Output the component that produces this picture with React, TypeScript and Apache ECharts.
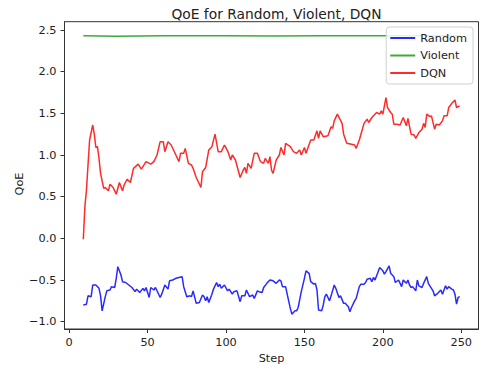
import React, { useEffect, useRef } from "react";
import * as echarts from "echarts";

const titleText = "QoE for Random, Violent, DQN";
const xTicks = [0, 50, 100, 150, 200, 250];
const yTicks = [-1.0, -0.5, 0.0, 0.5, 1.0, 1.5, 2.0, 2.5];

const randomSteps = [9, 11, 12, 14, 15, 17, 19, 20, 21, 23, 24, 26, 27, 29, 30, 31, 33, 34, 36, 38, 40, 42, 43, 45, 47, 48, 49, 51, 52, 54, 55, 58, 59, 61, 63, 64, 66, 68, 70, 72, 73, 75, 77, 78, 79, 81, 83, 85, 86, 87, 88, 89, 91, 92, 94, 95, 96, 97, 99, 101, 102, 104, 105, 107, 109, 110, 112, 113, 115, 117, 118, 120, 121, 123, 124, 126, 128, 130, 132, 134, 135, 136, 138, 139, 141, 142, 144, 145, 146, 148, 150, 151, 153, 154, 156, 157, 158, 159, 161, 162, 163, 164, 166, 167, 169, 170, 172, 173, 175, 176, 178, 179, 180, 182, 183, 185, 186, 188, 189, 190, 192, 193, 194, 195, 197, 198, 200, 201, 202, 204, 205, 207, 208, 210, 211, 212, 213, 215, 216, 217, 218, 219, 221, 222, 223, 225, 226, 228, 229, 231, 232, 233, 235, 237, 238, 240, 241, 242, 244, 245, 246, 247, 248, 249];
const randomQoE = [-0.80, -0.79, -0.69, -0.70, -0.56, -0.56, -0.60, -0.69, -0.87, -0.70, -0.63, -0.62, -0.58, -0.59, -0.48, -0.34, -0.44, -0.52, -0.53, -0.56, -0.59, -0.64, -0.61, -0.65, -0.60, -0.63, -0.59, -0.71, -0.59, -0.62, -0.59, -0.71, -0.67, -0.56, -0.61, -0.51, -0.50, -0.48, -0.47, -0.46, -0.58, -0.70, -0.69, -0.70, -0.63, -0.78, -0.77, -0.68, -0.70, -0.75, -0.70, -0.77, -0.67, -0.61, -0.53, -0.58, -0.55, -0.60, -0.56, -0.63, -0.61, -0.67, -0.64, -0.63, -0.76, -0.69, -0.69, -0.62, -0.70, -0.68, -0.72, -0.63, -0.64, -0.65, -0.59, -0.54, -0.50, -0.51, -0.54, -0.50, -0.51, -0.58, -0.58, -0.67, -0.84, -0.91, -0.87, -0.87, -0.83, -0.64, -0.48, -0.39, -0.42, -0.52, -0.55, -0.54, -0.62, -0.86, -0.87, -0.80, -0.70, -0.67, -0.75, -0.69, -0.56, -0.60, -0.71, -0.69, -0.78, -0.78, -0.82, -0.88, -0.83, -0.75, -0.72, -0.58, -0.55, -0.55, -0.53, -0.49, -0.48, -0.52, -0.47, -0.50, -0.40, -0.35, -0.39, -0.43, -0.40, -0.33, -0.42, -0.46, -0.53, -0.50, -0.54, -0.58, -0.50, -0.54, -0.50, -0.56, -0.59, -0.58, -0.63, -0.50, -0.57, -0.59, -0.54, -0.46, -0.54, -0.60, -0.63, -0.69, -0.66, -0.62, -0.67, -0.57, -0.61, -0.58, -0.61, -0.62, -0.67, -0.79, -0.71, -0.70];

const violentSteps = [9, 30, 60, 100, 130, 160, 200, 249];
const violentQoE = [2.43, 2.425, 2.43, 2.43, 2.428, 2.432, 2.43, 2.43];

const dqnSteps = [9, 10, 11, 13, 15, 16, 17, 18, 19, 20, 22, 23, 25, 26, 28, 30, 32, 34, 35, 37, 39, 41, 44, 46, 47, 49, 52, 54, 56, 58, 60, 61, 63, 65, 68, 70, 71, 73, 74, 76, 78, 79, 81, 84, 85, 87, 89, 91, 93, 95, 97, 99, 101, 103, 104, 106, 109, 111, 112, 113, 114, 116, 118, 120, 122, 124, 125, 127, 128, 129, 130, 132, 134, 135, 137, 138, 141, 143, 145, 147, 148, 150, 151, 154, 156, 158, 159, 160, 162, 165, 167, 168, 169, 171, 174, 175, 177, 180, 182, 183, 185, 188, 190, 191, 193, 196, 198, 199, 200, 202, 203, 205, 206, 207, 209, 211, 213, 215, 216, 218, 220, 221, 223, 225, 226, 227, 228, 230, 231, 233, 234, 236, 238, 239, 241, 242, 244, 246, 247, 249];
const dqnQoE = [-0.01, 0.38, 0.58, 1.18, 1.36, 1.25, 1.09, 1.10, 0.96, 0.78, 0.60, 0.61, 0.57, 0.65, 0.61, 0.53, 0.67, 0.57, 0.64, 0.71, 0.67, 0.84, 0.89, 0.83, 0.86, 0.92, 0.89, 0.92, 1.00, 1.16, 1.16, 1.04, 1.16, 1.12, 1.00, 0.92, 1.02, 1.02, 1.08, 0.90, 0.88, 0.84, 0.73, 0.61, 0.80, 0.85, 1.06, 1.10, 1.25, 1.04, 1.04, 1.12, 1.05, 0.94, 1.00, 0.94, 0.73, 0.82, 0.85, 0.78, 0.90, 0.84, 1.02, 1.02, 0.92, 0.90, 0.96, 0.90, 0.98, 0.82, 0.78, 0.94, 1.00, 1.09, 1.00, 1.14, 1.10, 1.04, 1.02, 1.06, 1.00, 1.09, 1.02, 1.18, 1.18, 1.29, 1.20, 1.29, 1.22, 1.23, 1.34, 1.32, 1.41, 1.49, 1.38, 1.25, 1.14, 1.13, 1.12, 1.08, 1.18, 1.38, 1.43, 1.39, 1.45, 1.51, 1.49, 1.53, 1.49, 1.69, 1.57, 1.51, 1.49, 1.37, 1.37, 1.36, 1.45, 1.35, 1.44, 1.25, 1.24, 1.20, 1.27, 1.31, 1.38, 1.33, 1.49, 1.46, 1.47, 1.31, 1.37, 1.36, 1.41, 1.47, 1.47, 1.57, 1.62, 1.66, 1.57, 1.59];

const FONT = "DejaVu Sans";
const fmt = (v: number) => v.toFixed(1).replace("-", "\u2212");

export default function App() {
  const ref = useRef<HTMLDivElement>(null);
  useEffect(() => {
    document.body.style.margin = "0";
    if (!ref.current) return;
    const chart = echarts.init(ref.current, null, { renderer: "svg" });
    const pair = (s: number[], v: number[]) => s.map((x, i) => [x, v[i]]);
    chart.setOption({
      animation: false,
      backgroundColor: "#fff",
      textStyle: { fontFamily: FONT },
      title: {
        text: titleText,
        left: 271.5,
        textAlign: "center",
        top: 2,
        textStyle: { fontFamily: FONT, fontSize: 13.8, fontWeight: "normal", color: "#222" },
      },
      legend: {
        orient: "vertical",
        right: 13,
        top: 27,
        itemWidth: 25,
        itemHeight: 2,
        itemGap: 5.5,
        itemTextGap: 8,
        icon: "rect",
        padding: [5, 6, 5, 4],
        borderColor: "#d0d0d0",
        borderWidth: 1,
        borderRadius: 3,
        backgroundColor: "rgba(255,255,255,0.85)",
        textStyle: { fontFamily: FONT, fontSize: 11.3, color: "#222", lineHeight: 12 },
        data: ["Random", "Violent", "DQN"],
      },
      grid: {
        left: 64.5,
        right: 7.5,
        top: 21.7,
        bottom: 50,
        show: true,
        borderColor: "#333",
        borderWidth: 1,
        containLabel: false,
      },
      xAxis: {
        type: "value",
        min: -3,
        max: 261,
        name: "Step",
        nameLocation: "middle",
        nameGap: 23,
        nameTextStyle: { fontFamily: FONT, fontSize: 11.3, color: "#222", verticalAlign: "top" },
        axisLine: { show: true, onZero: false, lineStyle: { color: "#333" } },
        axisTick: { show: true, customValues: xTicks, length: 4, lineStyle: { color: "#333" } },
        axisLabel: { customValues: xTicks, margin: 8, fontSize: 11.3, color: "#222", fontFamily: FONT },
        splitLine: { show: false },
      },
      yAxis: {
        type: "value",
        min: -1.088,
        max: 2.6,
        axisLine: { show: true, onZero: false, lineStyle: { color: "#333" } },
        axisTick: { show: true, customValues: yTicks, length: 4, lineStyle: { color: "#333" } },
        axisLabel: {
          customValues: yTicks,
          margin: 8,
          fontSize: 11.3,
          color: "#222",
          fontFamily: FONT,
          formatter: (v: number) => fmt(v),
        },
        splitLine: { show: false },
      },
      graphic: [
        {
          type: "text",
          x: 19,
          y: 184,
          rotation: Math.PI / 2,
          style: {
            text: "QoE",
            fontFamily: FONT,
            fontSize: 11.3,
            fill: "#222",
            align: "center",
            verticalAlign: "middle",
          },
        },
      ],
      series: [
        {
          name: "Random",
          type: "line",
          data: pair(randomSteps, randomQoE),
          showSymbol: false,
          symbol: "none",
          color: "#2a2aff",
          lineStyle: { width: 1.5, color: "#2a2aff" },
          z: 2,
        },
        {
          name: "Violent",
          type: "line",
          data: pair(violentSteps, violentQoE),
          showSymbol: false,
          symbol: "none",
          color: "#3fa83f",
          lineStyle: { width: 1.5, color: "#3fa83f" },
          z: 2,
        },
        {
          name: "DQN",
          type: "line",
          data: pair(dqnSteps, dqnQoE),
          showSymbol: false,
          symbol: "none",
          color: "#ff2a2a",
          lineStyle: { width: 1.5, color: "#ff2a2a" },
          z: 2,
        },
      ],
    });
    return () => chart.dispose();
  }, []);
  return <div ref={ref} style={{ width: 486, height: 379 }} />;
}
